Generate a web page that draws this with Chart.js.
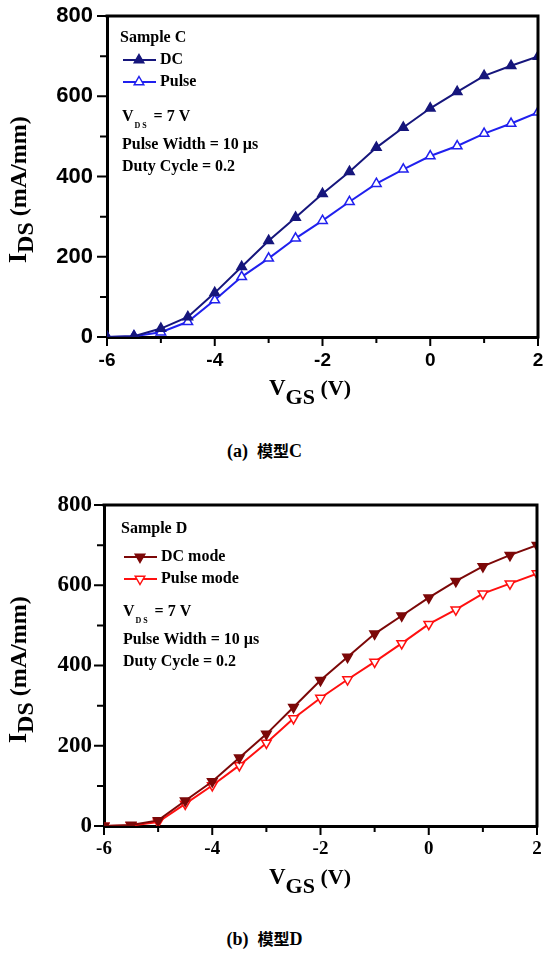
<!DOCTYPE html>
<html>
<head>
<meta charset="utf-8">
<script src="https://cdn.jsdelivr.net/npm/chart.js@4.4.0/dist/chart.umd.min.js"></script>
<style>
  body { margin: 0; background: #fff; width: 549px; height: 954px; position: relative; overflow: hidden; }
  canvas { position: absolute; left: 0; }
  #chartC { top: 0; }
  #chartD { top: 480px; }
  .caption { position: absolute; left: 0; width: 529px; text-align: center; font: bold 18px "Liberation Serif", serif; color: #000; }
  .caption .cjk { font-family: "Noto Sans CJK TC", sans-serif; font-size: 16px; }
</style>
</head>
<body>
<canvas id="chartC" width="549" height="420"></canvas>
<canvas id="chartD" width="549" height="420"></canvas>
<div class="caption" style="top:438px">(a)&nbsp; <span class="cjk">模型</span>C</div>
<div class="caption" style="top:926px">(b)&nbsp; <span class="cjk">模型</span>D</div>
<script>
// gate voltage sweep (V)
const vgs = [-6, -5.5, -5, -4.5, -4, -3.5, -3, -2.5, -2, -1.5, -1, -0.5, 0, 0.5, 1, 1.5, 2];

// Sample C, I_DS in mA/mm
const dcC    = [0, 2, 21, 50, 110, 175, 240, 298, 357, 412, 472, 522, 570, 611, 651, 676, 699];
const pulseC = [0, 2, 12, 38, 92, 150, 196, 246, 290, 337, 382, 418, 451, 476, 507, 532, 560];

// Sample D, I_DS in mA/mm
const dcD    = [0, 2.5, 14, 63, 111, 170, 229, 296, 363, 421, 479, 524, 569, 610, 647, 675, 700];
const pulseD = [0, 1, 10, 55, 101, 151, 207, 268, 319, 365, 409, 455, 503, 539, 579, 604, 629];

const xTickLabels = [-6, -4, -2, 0, 2];
const yTickLabels = [0, 200, 400, 600, 800];

const SERIF = '"Liberation Serif", "Times New Roman", serif';
const SANS = '"Liberation Sans", Arial, sans-serif';

function toPoints(ys) {
  return vgs.map((v, i) => ({ x: v, y: ys[i] }));
}

function tri(ctx, x, y, r, down) {
  const s = down ? -1 : 1;
  ctx.beginPath();
  ctx.moveTo(x, y - s * r);
  ctx.lineTo(x + r * 0.866, y + s * r * 0.5);
  ctx.lineTo(x - r * 0.866, y + s * r * 0.5);
  ctx.closePath();
}

// axes box, tick marks, axis titles and the in-plot legend
const decor = {
  id: 'decor',
  afterDraw(chart, args, o) {
    const { ctx, chartArea: a, scales: { x, y } } = chart;
    ctx.save();
    ctx.strokeStyle = '#000';
    ctx.lineWidth = 3;
    ctx.beginPath();
    ctx.moveTo(a.left - 1.5, a.top);
    ctx.lineTo(a.right, a.top);
    ctx.lineTo(a.right, a.bottom + 1.5);
    ctx.stroke();

    // tick marks, major and minor
    ctx.lineWidth = 2;
    ctx.beginPath();
    for (let v = x.min; v <= x.max; v += 1) {
      const px = x.getPixelForValue(v);
      const len = v % 2 === 0 ? 9 : 6;
      ctx.moveTo(px, a.bottom);
      ctx.lineTo(px, a.bottom + len);
    }
    for (let v = y.min; v <= y.max; v += 100) {
      const py = y.getPixelForValue(v);
      const len = v % 200 === 0 ? 10 : 7;
      ctx.moveTo(a.left, py);
      ctx.lineTo(a.left - len, py);
    }
    ctx.stroke();

    ctx.fillStyle = '#000';
    ctx.textBaseline = 'alphabetic';

    // x title: V_GS (V)
    const parts = [
      { t: 'V', f: 'bold 23px ' + SERIF, dy: 0 },
      { t: 'GS', f: 'bold 22px ' + SERIF, dy: 9 },
      { t: ' (V)', f: 'bold 22px ' + SERIF, dy: 0 }
    ];
    let w = 0;
    parts.forEach(p => { ctx.font = p.f; p.w = ctx.measureText(p.t).width; w += p.w; });
    let cx = 310 - w / 2;
    const base = a.bottom + 58;
    parts.forEach(p => { ctx.font = p.f; ctx.fillText(p.t, cx, base + p.dy); cx += p.w; });

    // y title: I_DS (mA/mm), rotated
    ctx.save();
    ctx.translate(26, 263);
    ctx.rotate(-Math.PI / 2);
    const yparts = [
      { t: 'I', f: 'bold 26px ' + SERIF, dy: 0 },
      { t: 'DS', f: 'bold 24px ' + SERIF, dy: 7 },
      { t: ' (mA/mm)', f: 'bold 24px ' + SERIF, dy: 0 }
    ];
    let tx = 0;
    yparts.forEach(p => { ctx.font = p.f; ctx.fillText(p.t, tx, p.dy); tx += ctx.measureText(p.t).width; });
    ctx.restore();

    // legend box
    const L = o.legend;
    ctx.textBaseline = 'middle';
    ctx.font = 'bold 16px ' + SERIF;
    ctx.fillText(L.title, L.x, L.rows[0]);
    chart.data.datasets.forEach((ds, i) => {
      const ry = L.rows[i + 1];
      ctx.strokeStyle = ds.borderColor;
      ctx.lineWidth = 2;
      ctx.beginPath();
      ctx.moveTo(L.x + 3, ry);
      ctx.lineTo(L.x + 36, ry);
      ctx.stroke();
      tri(ctx, L.x + 19, ry, ds.pointRadius, L.down);
      ctx.fillStyle = ds.pointBackgroundColor;
      ctx.fill();
      ctx.lineWidth = 1.5;
      ctx.strokeStyle = ds.pointBorderColor;
      ctx.stroke();
      ctx.fillStyle = '#000';
      ctx.font = 'bold 16px ' + SERIF;
      ctx.fillText(ds.label, L.x + 40, ry);
    });

    // measurement conditions
    const nx = L.x + 2;
    ctx.font = 'bold 16px ' + SERIF;
    ctx.fillText('V', nx, L.rows[3]);
    const vw = ctx.measureText('V').width;
    ctx.font = 'bold 8px ' + SERIF;
    ctx.fillText('D S', nx + vw + 1, L.rows[3] + 9);
    ctx.font = 'bold 16px ' + SERIF;
    ctx.fillText('= 7 V', nx + vw + 20, L.rows[3]);
    ctx.fillText('Pulse Width = 10 µs', nx, L.rows[4]);
    ctx.fillText('Duty Cycle = 0.2', nx, L.rows[5]);
    ctx.restore();
  }
};

function noPad(s) {
  s.paddingLeft = 0;
  s.paddingRight = 0;
  s.paddingTop = 0;
  s.paddingBottom = 0;
}

function makeChart(id, cfg) {
  return new Chart(document.getElementById(id), {
    type: 'line',
    data: {
      datasets: cfg.series.map(s => ({
        label: s.label,
        data: toPoints(s.values),
        borderColor: s.color,
        borderWidth: 2,
        pointStyle: 'triangle',
        pointRotation: cfg.down ? 180 : 0,
        pointRadius: 5.5,
        pointBackgroundColor: s.hollow ? '#fff' : s.color,
        pointBorderColor: s.color,
        pointBorderWidth: 1.5,
        tension: 0
      }))
    },
    options: {
      responsive: false,
      animation: false,
      devicePixelRatio: 1,
      layout: { padding: { top: cfg.top, right: cfg.right, left: 0, bottom: 0 } },
      plugins: {
        legend: { display: false },
        tooltip: { enabled: false },
        decor: { legend: cfg.legend }
      },
      scales: {
        x: {
          type: 'linear',
          min: -6, max: 2,
          grid: { display: false, drawTicks: false },
          border: { display: true, color: '#000', width: 3 },
          ticks: {
            stepSize: 1,
            autoSkip: false,
            maxRotation: 0,
            padding: cfg.xPad,
            color: '#000',
            font: { family: cfg.tickFamily, weight: 'bold', size: cfg.xTickSize },
            callback: v => (xTickLabels.includes(v) ? String(v) : '')
          },
          afterFit: s => { s.height = cfg.xHeight; noPad(s); }
        },
        y: {
          min: 0, max: 800,
          grid: { display: false, drawTicks: false },
          border: { display: true, color: '#000', width: 3 },
          ticks: {
            stepSize: 200,
            padding: cfg.yPad,
            color: '#000',
            font: { family: cfg.tickFamily, weight: 'bold', size: cfg.yTickSize },
            callback: v => (yTickLabels.includes(v) ? String(v) : '')
          },
          afterFit: s => { s.width = cfg.yWidth; noPad(s); }
        }
      }
    },
    plugins: [decor]
  });
}

makeChart('chartC', {
  top: 16, right: 11, yWidth: 107, xHeight: 83,
  xPad: 12, yPad: 14, xTickSize: 19, yTickSize: 22,
  tickFamily: SANS, down: false,
  series: [
    { label: 'DC', values: dcC, color: '#16167c', hollow: false },
    { label: 'Pulse', values: pulseC, color: '#2020ee', hollow: true }
  ],
  legend: { title: 'Sample C', x: 120, down: false, rows: [38, 60, 82, 117, 145, 167] }
});

makeChart('chartD', {
  top: 25, right: 12, yWidth: 104, xHeight: 74,
  xPad: 12, yPad: 12, xTickSize: 19, yTickSize: 23,
  tickFamily: SERIF, down: true,
  series: [
    { label: 'DC mode', values: dcD, color: '#7c0808', hollow: false },
    { label: 'Pulse mode', values: pulseD, color: '#ff1010', hollow: true }
  ],
  legend: { title: 'Sample D', x: 121, down: true, rows: [49, 77, 99, 132, 160, 182] }
});
</script>
</body>
</html>
